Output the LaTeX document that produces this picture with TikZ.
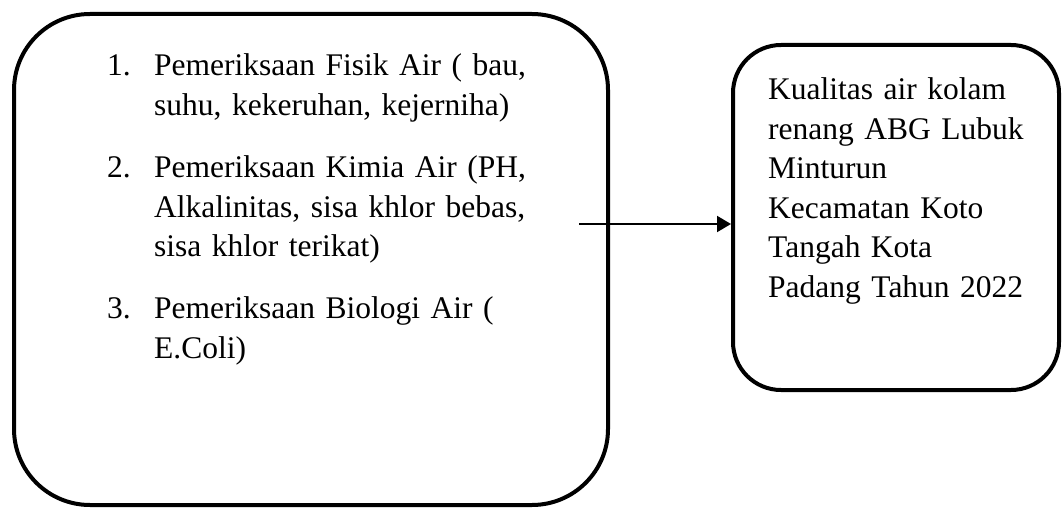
\documentclass[tikz,border=0pt]{standalone}
\usepackage{fontspec}
\setmainfont{Liberation Serif}
\usetikzlibrary{arrows.meta}

\begin{document}
\begin{tikzpicture}[x=1pt,y=-1pt,
  roundbox/.style={draw,line width=4pt,inner sep=0pt},
  boxtext/.style={anchor=base west,inner sep=0pt,align=left,font=\fontsize{31.5}{40}\selectfont}]
  \useasboundingbox (0,0) rectangle (1063,508);

  % pemeriksaan
  \node[roundbox,rounded corners=76pt,minimum width=594pt,minimum height=491pt] (checks) at (311,259.5) {};
  \node[boxtext] (n1) at (107,76) {1.};
  \node[boxtext,text width=440pt] (t1) at (154,76) {Pemeriksaan Fisik Air ( bau,\\suhu, kekeruhan, kejerniha)};
  \node[boxtext] (n2) at (107,177) {2.};
  \node[boxtext,text width=440pt] (t2) at (154,177) {Pemeriksaan Kimia Air (PH,\\Alkalinitas, sisa khlor bebas,\\sisa khlor terikat)};
  \node[boxtext] (n3) at (107,318) {3.};
  \node[boxtext,text width=440pt] (t3) at (154,318) {Pemeriksaan Biologi Air (\\E.Coli)};

  % kualitas
  \node[roundbox,rounded corners=48pt,minimum width=326pt,minimum height=345pt] (quality) at (896,217.5) {};
  \node[boxtext,text width=290pt,font=\fontsize{31.5}{39.5}\selectfont] (q) at (768,100) {Kualitas air kolam\\renang ABG Lubuk\\Minturun\\Kecamatan Koto\\Tangah Kota\\Padang Tahun 2022};

  % arrow
  \path (579,224) coordinate (a0);
  \draw[line width=2pt,-{Triangle[length=14pt,width=16pt]}] (a0) -- (a0 -| quality.west);

\end{tikzpicture}
\end{document}
